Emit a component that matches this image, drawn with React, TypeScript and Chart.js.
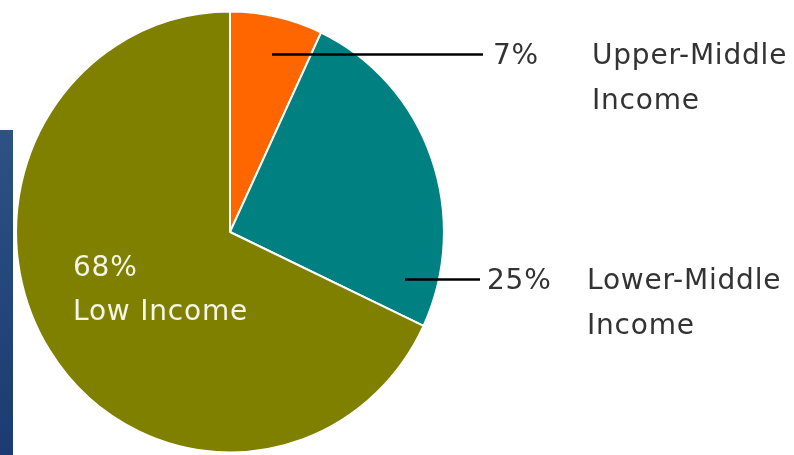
import React, { useEffect, useRef } from "react";
import { Chart, registerables } from "chart.js";

Chart.register(...registerables);

const categories = ["Upper-Middle Income", "Lower-Middle Income", "Low Income"];
const shares = [7, 25, 68];
const sliceColors = ["#FF6600", "#008080", "#808000"];
const percentLabels = ["7%", "25%", "68%"];
const nameLines = [["Upper-Middle", "Income"], ["Lower-Middle", "Income"], ["Low Income"]];

const FONT = '28px "DejaVu Sans", Verdana, sans-serif';
const X_SQUEEZE = 0.97;

const squeezePlugin = {
  id: "squeeze",
  beforeDatasetsDraw(chart: any) {
    const meta = chart.getDatasetMeta(0);
    const cx = meta.data[0] ? meta.data[0].x : 0;
    const ctx = chart.ctx;
    ctx.save();
    ctx.translate(cx, 0);
    ctx.scale(X_SQUEEZE, 1);
    ctx.translate(-cx, 0);
  },
  afterDatasetsDraw(chart: any) {
    chart.ctx.restore();
  },
};

const labelPlugin = {
  id: "pieLabels",
  afterDraw(chart: any) {
    const ctx = chart.ctx;
    ctx.save();
    ctx.font = FONT;
    (ctx as any).letterSpacing = "0.8px";
    ctx.textBaseline = "alphabetic";
    ctx.strokeStyle = "#000";
    ctx.lineWidth = 2.5;
    const leaders = [
      { x1: 272, y: 54.5, x2: 483 },
      { x1: 405, y: 279.5, x2: 480 },
    ];
    leaders.forEach((l) => {
      ctx.beginPath();
      ctx.moveTo(l.x1, l.y);
      ctx.lineTo(l.x2, l.y);
      ctx.stroke();
    });
    ctx.fillStyle = "#333333";
    const outside = [
      { px: 493, nx: 592, y: 64 },
      { px: 487, nx: 587, y: 289 },
    ];
    outside.forEach((o, i) => {
      ctx.fillText(percentLabels[i], o.px, o.y);
      nameLines[i].forEach((t, j) => ctx.fillText(t, o.nx, o.y + j * 45));
    });
    ctx.fillStyle = "#F4F4E8";
    ctx.fillText(percentLabels[2], 73, 276);
    ctx.fillText(nameLines[2][0], 73, 320);
    ctx.restore();
  },
};

export default function App() {
  const ref = useRef<HTMLCanvasElement>(null);
  useEffect(() => {
    if (!ref.current) return;
    const chart = new Chart(ref.current, {
      type: "pie",
      data: {
        labels: categories,
        datasets: [
          {
            data: shares,
            backgroundColor: sliceColors,
            borderColor: "#ffffff",
            borderWidth: 2,
          },
        ],
      },
      options: {
        responsive: false,
        animation: false,
        layout: { padding: { left: 8.5, right: 342.5, top: 10.5, bottom: 1.5 } },
        plugins: { legend: { display: false }, tooltip: { enabled: false } },
      },
      plugins: [squeezePlugin, labelPlugin],
    });
    return () => chart.destroy();
  }, []);
  return (
    <div style={{ position: "fixed", left: 0, top: 0, width: 794, height: 455, background: "#fff", overflow: "hidden" }}>
      <canvas ref={ref} width={794} height={455} style={{ position: "absolute", left: 0, top: 0 }} />
      <div
        style={{
          position: "absolute",
          left: 0,
          top: 130,
          width: 13,
          height: 325,
          background: "linear-gradient(180deg, #2d5283 0%, #24467a 50%, #1d3b70 100%)",
        }}
      />
    </div>
  );
}
